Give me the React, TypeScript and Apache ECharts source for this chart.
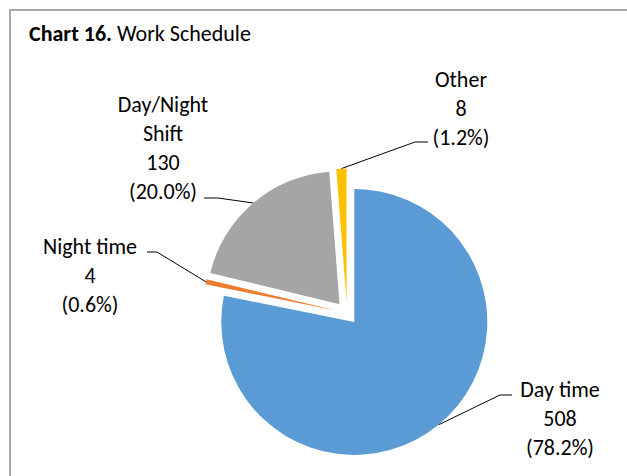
import React, { useEffect, useRef } from "react";
import * as echarts from "echarts";

const categories = ["Day time", "Night time", "Day/Night\nShift", "Other"];
const values = [508, 4, 130, 8];
const colors = ["#5B9BD5", "#ED7D31", "#A5A5A5", "#FFC000"];

const FONT = "Carlito, Calibri, Lato, sans-serif";
const CX = 347;
const CY = 313;
const R = 133;
const OFF = 11.5;

// label block centres and leader-line elbows (layout only)
const labelLayouts = [
  { x: 560, y: 418, elbow: [500, 395], end: [512, 395] },
  { x: 90, y: 275, elbow: [157, 252], end: [147, 252] },
  { x: 163, y: 148, elbow: [218, 198], end: [204, 198] },
  { x: 461, y: 108, elbow: [415, 142], end: [428, 142] },
];

export default function App() {
  const ref = useRef<HTMLDivElement>(null);
  useEffect(() => {
    if (!ref.current) return;
    const chart = echarts.init(ref.current, null, { renderer: "svg" });
    const total = values.reduce((a, b) => a + b, 0);
    let cum = 0;
    const series: any[] = values.map((v, i) => {
      const mid = ((cum + v / 2) / total) * Math.PI * 2;
      cum += v;
      const dx = Math.sin(mid);
      const dy = -Math.cos(mid);
      const cx = CX + OFF * dx;
      const cy = CY + OFF * dy;
      const edge = [cx + R * dx, cy + R * dy];
      const L = labelLayouts[i];
      return {
        type: "pie",
        center: [cx, cy],
        radius: R,
        startAngle: 90,
        clockwise: true,
        avoidLabelOverlap: false,
        silent: true,
        percentPrecision: 1,
        emphasis: { disabled: true },
        itemStyle: { borderWidth: 0 },
        label: {
          position: "outside",
          fontFamily: FONT,
          fontSize: 22,
          lineHeight: 29,
          color: "#000",
          align: "center",
          formatter: (p: any) =>
            `${p.name}\n${p.value}\n(${Number(p.percent).toFixed(1)}%)`,
        },
        labelLine: {
          show: true,
          smooth: false,
          length: 10,
          length2: 10,
          lineStyle: { color: "#000", width: 1 },
        },
        labelLayout: () => ({
          x: L.x,
          y: L.y,
          align: "center",
          verticalAlign: "middle",
          labelLinePoints: [edge, L.elbow, L.end],
        }),
        data: values.map((val, j) => ({
          name: categories[j],
          value: val,
          itemStyle: { color: j === i ? colors[j] : "rgba(0,0,0,0)" },
          label: { show: j === i },
          labelLine: { show: j === i },
        })),
      };
    });
    chart.setOption({
      animation: false,
      backgroundColor: "#fff",
      title: {
        left: 24,
        top: 17,
        text: "{b|Chart 16.} {n|Work Schedule}",
        textStyle: {
          fontWeight: "normal",
          rich: {
            b: { fontFamily: FONT, fontSize: 22, fontWeight: "bold", color: "#000" },
            n: { fontFamily: FONT, fontSize: 22, fontWeight: "normal", color: "#000" },
          },
        },
      },
      graphic: [
        {
          type: "rect",
          shape: { x: 10, y: 10, width: 700, height: 600 },
          style: { fill: "none", stroke: "#a8a8a8", lineWidth: 2 },
          silent: true,
        },
      ],
      series,
    });
    return () => chart.dispose();
  }, []);
  return (
    <div
      ref={ref}
      style={{ position: "absolute", left: 0, top: 0, width: 627, height: 476 }}
    />
  );
}
